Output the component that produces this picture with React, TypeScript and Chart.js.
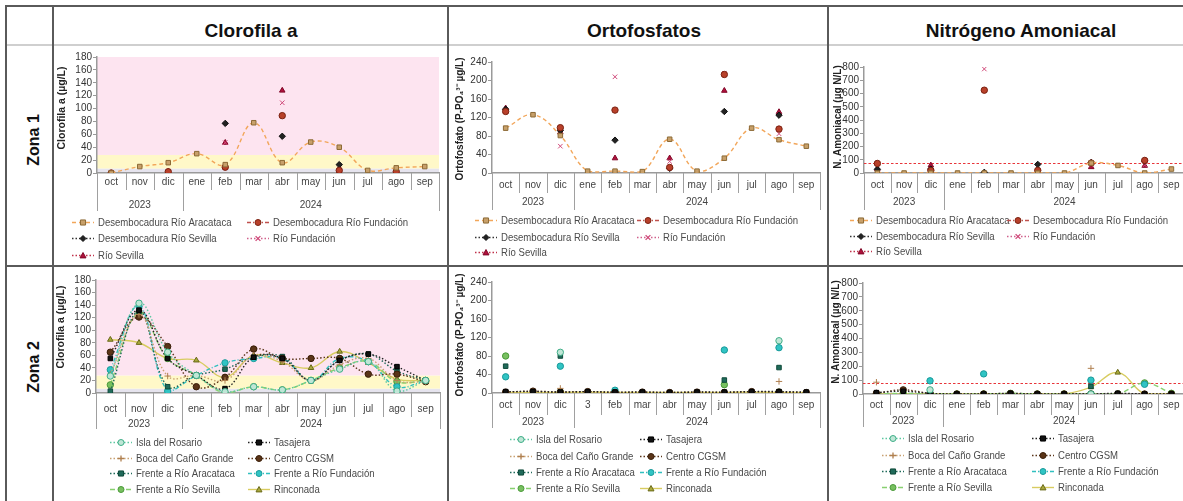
import React, { useEffect, useRef } from 'react';
import { Chart, registerables } from 'chart.js';

Chart.register(...registerables);

const FONT = 'Arial, "Liberation Sans", Helvetica, sans-serif';

// ---------- categories / labels ----------
const months = ['oct', 'nov', 'dic', 'ene', 'feb', 'mar', 'abr', 'may', 'jun', 'jul', 'ago', 'sep'];
const monthsZ2Po = ['oct', 'nov', 'dic', '3', 'feb', 'mar', 'abr', 'may', 'jun', 'jul', 'ago', 'sep'];
const years = ['2023', '2024'];
const yearSplit = 3;

const columnTitles = ['Clorofila a', 'Ortofosfatos', 'Nitrógeno Amoniacal'];
const rowTitles = ['Zona 1', 'Zona 2'];
const yTitles = ['Clorofila a (µg/L)', 'Ortofosfato (P-PO₄³⁻ µg/L)', 'N. Amoniacal (µg N/L)'];

const zone1Names = [
  'Desembocadura Río Aracataca',
  'Desembocadura Río Fundación',
  'Desembocadura Río Sevilla',
  'Río Fundación',
  'Río Sevilla',
];
const zone2Names = [
  'Isla del Rosario',
  'Tasajera',
  'Boca del Caño Grande',
  'Centro CGSM',
  'Frente a Río Aracataca',
  'Frente a Río Fundación',
  'Frente a Río Sevilla',
  'Rinconada',
];

// ---------- Zona 1 : Clorofila a ----------
const z1ChlAracataca = [0, 10, 16, 30, 13, 78, 16, 48, 40, 4, 8, 10];
const z1ChlDesFundacion = [0, null, 2, null, 9, null, 89, null, 4, null, 2, null];
const z1ChlDesSevilla = [null, null, null, null, 77, null, 57, null, 13, null, null, null];
const z1ChlRioFundacion = [null, null, null, null, 47, null, 109, null, 6, null, null, null];
const z1ChlRioSevilla = [null, null, 2, null, 47, null, 128, null, 2, null, 0, null];

// ---------- Zona 1 : Ortofosfatos ----------
const z1PoAracataca = [97, 126, 81, 4, 4, 3, 73, 4, 32, 97, 72, 58];
const z1PoDesFundacion = [133, null, 98, null, 136, null, 12, null, 213, null, 95, null];
const z1PoDesSevilla = [138, null, 92, null, 71, null, 10, null, 133, null, 125, null];
const z1PoRioFundacion = [135, null, 58, null, 208, null, 25, null, 215, null, 85, null];
const z1PoRioSevilla = [140, null, 88, null, 32, null, 32, null, 178, null, 132, null];

// ---------- Zona 1 : Nitrógeno amoniacal ----------
const z1NhAracataca = [0, 0, 0, 0, 0, 0, 0, 0, 75, 57, 0, 30];
const z1NhDesFundacion = [72, null, 20, null, 625, null, 20, null, 75, null, 95, null];
const z1NhDesSevilla = [28, null, 30, null, 5, null, 65, null, 80, null, 90, null];
const z1NhRioFundacion = [10, null, 5, null, 785, null, 5, null, 60, null, 60, null];
const z1NhRioSevilla = [30, null, 58, null, 0, null, 10, null, 45, null, 55, null];

// ---------- Zona 2 : Clorofila a ----------
const z2ChlIsla = [27, 143, 65, 28, 2, 10, 5, 20, 38, 50, 3, 20];
const z2ChlTasajera = [55, 132, 55, 28, 7, 57, 55, 20, 52, 62, 42, 20];
const z2ChlBoca = [30, 125, 27, 28, 20, 60, 50, 20, 45, 55, 20, 18];
const z2ChlCentro = [65, 121, 74, 10, 25, 70, 55, 55, 55, 30, 30, 18];
const z2ChlAracataca = [3, 130, 10, 28, 38, 57, 58, 20, 52, 62, 35, 20];
const z2ChlFundacion = [37, 138, 3, 28, 48, 55, 55, 20, 55, 50, 10, 20];
const z2ChlSevilla = [13, 128, 55, 28, 0, 10, 5, 20, 40, 50, 18, 20];
const z2ChlRinconada = [85, 80, 55, 52, 25, 60, 48, 40, 66, 48, 22, 20];

// ---------- Zona 2 : Ortofosfatos ----------
const z2PoIsla = [null, null, 88, null, null, null, null, null, null, null, 113, null];
const z2PoTasajera = [3, 3, 2, 3, 2, 2, 1, 2, 2, 3, 3, 2];
const z2PoBoca = [null, null, 10, null, null, null, null, null, null, null, 25, null];
const z2PoCentro = [2, 4, 2, 3, 1, 2, 1, 2, 1, 3, 2, 1];
const z2PoAracataca = [58, null, 80, null, null, null, null, null, 28, null, 55, null];
const z2PoFundacion = [35, null, 58, null, 6, null, null, null, 93, null, 98, null];
const z2PoSevilla = [80, null, 2, null, 2, null, null, null, 18, null, 2, null];
const z2PoRinconada = [1, 1, 1, 2, 1, 1, 1, 1, 1, 2, 1, 1];

// ---------- Zona 2 : Nitrógeno amoniacal ----------
const z2NhIsla = [null, null, 30, null, null, null, null, null, 0, null, null, null];
const z2NhTasajera = [10, 20, 5, 0, 0, 5, 0, 0, 0, 5, 0, 0];
const z2NhBoca = [85, null, null, null, null, null, null, null, 185, null, null, null];
const z2NhCentro = [5, 30, 5, 0, 0, 2, 0, 0, 0, 0, 0, 0];
const z2NhAracataca = [null, null, null, null, null, null, null, null, 55, null, null, null];
const z2NhFundacion = [null, null, 95, null, 145, null, null, null, 100, null, 70, null];
const z2NhSevilla = [0, 5, 0, 0, 0, 5, 0, 0, 0, 0, 80, 5];
const z2NhRinconada = [0, 0, 0, 0, 0, 0, 0, 0, 50, 155, 0, 0];

// reference thresholds
const nhReference = 77;
const chlBands = [
  { from: 0, to: 7, color: '#e6e4ee' },
  { from: 7, to: 28, color: '#fff8c8' },
  { from: 28, to: 180, color: '#fde4f0' },
];

type Style = { line: string; dash: number[]; point: string; fill: string; stroke: string; width?: number };

const zone1Styles: Style[] = [
  { line: '#f2a65a', dash: [4, 3], point: 'rect', fill: '#c8a06a', stroke: '#8c6a36' },
  { line: '#c0504d', dash: [4, 2, 1, 2], point: 'circle', fill: '#b8402a', stroke: '#7a2010' },
  { line: '#333333', dash: [1.5, 2], point: 'rectRot', fill: '#222222', stroke: '#111111' },
  { line: '#d0608c', dash: [1.5, 2], point: 'crossRot', fill: '#e07090', stroke: '#d04a7a' },
  { line: '#c0304a', dash: [1.5, 2], point: 'triangle', fill: '#b0103c', stroke: '#800828' },
];

const zone2Styles: Style[] = [
  { line: '#5cc8a0', dash: [1.5, 2], point: 'circle', fill: '#bfe6d6', stroke: '#3fae88' },
  { line: '#222222', dash: [1.5, 2], point: 'rect', fill: '#111111', stroke: '#000000' },
  { line: '#c8a070', dash: [1.5, 2], point: 'cross', fill: '#c09060', stroke: '#b08050' },
  { line: '#5a3418', dash: [1.5, 2], point: 'circle', fill: '#5a3418', stroke: '#3a1e08' },
  { line: '#1f6a5a', dash: [1.5, 2], point: 'rect', fill: '#1f6a5a', stroke: '#0f4a3a' },
  { line: '#30c0c0', dash: [4, 2, 1, 2], point: 'circle', fill: '#30c4c4', stroke: '#1a9a9a' },
  { line: '#88d070', dash: [5, 3], point: 'circle', fill: '#78c060', stroke: '#4a9a3a' },
  { line: '#d8cc60', dash: [], point: 'triangle', fill: '#a8a83c', stroke: '#6a6a1a' },
];

type Rect = { x: number; y: number; w: number; h: number };
type Area = { l: number; t: number; r: number; b: number };
type PanelCfg = {
  canvas: Rect;
  area: Area;
  labels: string[];
  yMax: number;
  yStep: number;
  yTitle: string;
  yTitleX: number;
  yTitleY: number;
  yTitleSize: number;
  names: string[];
  values: (number | null)[][];
  styles: Style[];
  bands?: { from: number; to: number; color: string }[];
  refLine?: number;
  monthY: number;
  yearY: number;
  shortSep: number;
  longSep: number;
  legendCols: number[];
  legendRows: number[];
};

const panels: PanelCfg[] = [
  {
    canvas: { x: 54, y: 46, w: 393, h: 219 },
    area: { l: 97, t: 57, r: 439, b: 173 },
    labels: months, yMax: 180, yStep: 20,
    yTitle: yTitles[0], yTitleX: 62, yTitleY: 108, yTitleSize: 10.5,
    names: zone1Names,
    values: [z1ChlAracataca, z1ChlDesFundacion, z1ChlDesSevilla, z1ChlRioFundacion, z1ChlRioSevilla],
    styles: zone1Styles, bands: chlBands,
    monthY: 182, yearY: 205, shortSep: 190, longSep: 211,
    legendCols: [72, 247], legendRows: [222, 238, 255],
  },
  {
    canvas: { x: 449, y: 46, w: 378, h: 219 },
    area: { l: 492, t: 62, r: 820, b: 173 },
    labels: months, yMax: 240, yStep: 40,
    yTitle: yTitles[1], yTitleX: 460, yTitleY: 119, yTitleSize: 10,
    names: zone1Names,
    values: [z1PoAracataca, z1PoDesFundacion, z1PoDesSevilla, z1PoRioFundacion, z1PoRioSevilla],
    styles: zone1Styles,
    monthY: 185, yearY: 202, shortSep: 193, longSep: 210,
    legendCols: [475, 637], legendRows: [220, 237, 252],
  },
  {
    canvas: { x: 829, y: 46, w: 360, h: 219 },
    area: { l: 864, t: 67, r: 1187, b: 173 },
    labels: months, yMax: 800, yStep: 100,
    yTitle: yTitles[2], yTitleX: 838, yTitleY: 117, yTitleSize: 10,
    names: zone1Names,
    values: [z1NhAracataca, z1NhDesFundacion, z1NhDesSevilla, z1NhRioFundacion, z1NhRioSevilla],
    styles: zone1Styles, refLine: nhReference,
    monthY: 185, yearY: 202, shortSep: 193, longSep: 210,
    legendCols: [850, 1007], legendRows: [220, 236, 251],
  },
  {
    canvas: { x: 54, y: 268, w: 393, h: 233 },
    area: { l: 96, t: 280, r: 440, b: 393 },
    labels: months, yMax: 180, yStep: 20,
    yTitle: yTitles[0], yTitleX: 61, yTitleY: 327, yTitleSize: 10.5,
    names: zone2Names,
    values: [z2ChlIsla, z2ChlTasajera, z2ChlBoca, z2ChlCentro, z2ChlAracataca, z2ChlFundacion, z2ChlSevilla, z2ChlRinconada],
    styles: zone2Styles, bands: chlBands,
    monthY: 409, yearY: 424, shortSep: 417, longSep: 429,
    legendCols: [110, 248], legendRows: [442, 458, 473, 489],
  },
  {
    canvas: { x: 449, y: 268, w: 378, h: 233 },
    area: { l: 492, t: 282, r: 820, b: 393 },
    labels: monthsZ2Po, yMax: 240, yStep: 40,
    yTitle: yTitles[1], yTitleX: 460, yTitleY: 335, yTitleSize: 10,
    names: zone2Names,
    values: [z2PoIsla, z2PoTasajera, z2PoBoca, z2PoCentro, z2PoAracataca, z2PoFundacion, z2PoSevilla, z2PoRinconada],
    styles: zone2Styles,
    monthY: 405, yearY: 422, shortSep: 415, longSep: 428,
    legendCols: [510, 640], legendRows: [439, 456, 472, 488],
  },
  {
    canvas: { x: 829, y: 268, w: 360, h: 233 },
    area: { l: 863, t: 283, r: 1187, b: 394 },
    labels: months, yMax: 800, yStep: 100,
    yTitle: yTitles[2], yTitleX: 836, yTitleY: 332, yTitleSize: 10,
    names: zone2Names,
    values: [z2NhIsla, z2NhTasajera, z2NhBoca, z2NhCentro, z2NhAracataca, z2NhFundacion, z2NhSevilla, z2NhRinconada],
    styles: zone2Styles, refLine: nhReference,
    monthY: 405, yearY: 421, shortSep: 415, longSep: 427,
    legendCols: [882, 1032], legendRows: [438, 455, 471, 487],
  },
];

function drawMarker(ctx: CanvasRenderingContext2D, st: Style, x: number, y: number, r: number) {
  ctx.save();
  ctx.setLineDash([]);
  ctx.fillStyle = st.fill;
  ctx.strokeStyle = st.stroke;
  ctx.lineWidth = 1;
  ctx.beginPath();
  switch (st.point) {
    case 'circle':
      ctx.arc(x, y, r, 0, Math.PI * 2);
      ctx.fill();
      ctx.stroke();
      break;
    case 'rect': {
      const s = r * 0.85;
      ctx.rect(x - s, y - s, 2 * s, 2 * s);
      ctx.fill();
      ctx.stroke();
      break;
    }
    case 'rectRot':
      ctx.moveTo(x, y - r);
      ctx.lineTo(x + r, y);
      ctx.lineTo(x, y + r);
      ctx.lineTo(x - r, y);
      ctx.closePath();
      ctx.fill();
      ctx.stroke();
      break;
    case 'triangle':
      ctx.moveTo(x, y - r);
      ctx.lineTo(x + r, y + r * 0.8);
      ctx.lineTo(x - r, y + r * 0.8);
      ctx.closePath();
      ctx.fill();
      ctx.stroke();
      break;
    case 'cross':
      ctx.lineWidth = 1.3;
      ctx.moveTo(x - r, y);
      ctx.lineTo(x + r, y);
      ctx.moveTo(x, y - r);
      ctx.lineTo(x, y + r);
      ctx.stroke();
      break;
    case 'crossRot':
      ctx.lineWidth = 1.3;
      ctx.moveTo(x - r * 0.8, y - r * 0.8);
      ctx.lineTo(x + r * 0.8, y + r * 0.8);
      ctx.moveTo(x + r * 0.8, y - r * 0.8);
      ctx.lineTo(x - r * 0.8, y + r * 0.8);
      ctx.stroke();
      break;
  }
  ctx.restore();
}

function Panel({ cfg }: { cfg: PanelCfg }) {
  const ref = useRef<HTMLCanvasElement | null>(null);

  useEffect(() => {
    const c = cfg.canvas;
    const a = cfg.area;
    const toX = (px: number) => px - c.x;
    const toY = (py: number) => py - c.y;

    const decor = {
      id: 'panelDecor',
      beforeDraw(chart: any) {
        if (!cfg.bands) return;
        const ctx = chart.ctx as CanvasRenderingContext2D;
        const ca = chart.chartArea;
        const ys = chart.scales.y;
        ctx.save();
        for (const b of cfg.bands) {
          const y1 = ys.getPixelForValue(b.to);
          const y2 = ys.getPixelForValue(b.from);
          ctx.fillStyle = b.color;
          ctx.fillRect(ca.left, y1, ca.right - ca.left, y2 - y1);
        }
        ctx.restore();
      },
      beforeDatasetsDraw(chart: any) {
        if (cfg.refLine === undefined) return;
        const ctx = chart.ctx as CanvasRenderingContext2D;
        const ca = chart.chartArea;
        const y = Math.round(chart.scales.y.getPixelForValue(cfg.refLine)) + 0.5;
        ctx.save();
        ctx.strokeStyle = '#e8353a';
        ctx.lineWidth = 1.2;
        ctx.setLineDash([2.5, 2]);
        ctx.beginPath();
        ctx.moveTo(ca.left, y);
        ctx.lineTo(ca.right, y);
        ctx.stroke();
        ctx.restore();
      },
      afterDraw(chart: any) {
        const ctx = chart.ctx as CanvasRenderingContext2D;
        const ca = chart.chartArea;
        const n = cfg.labels.length;
        const cw = (ca.right - ca.left) / n;
        ctx.save();
        // category separators
        ctx.strokeStyle = '#a0a0a0';
        ctx.lineWidth = 1;
        for (let i = 0; i <= n; i++) {
          const x = Math.round(ca.left + i * cw) + 0.5;
          const long = i === 0 || i === yearSplit || i === n;
          ctx.beginPath();
          ctx.moveTo(x, ca.bottom);
          ctx.lineTo(x, toY(long ? cfg.longSep : cfg.shortSep));
          ctx.stroke();
        }
        // years
        ctx.fillStyle = '#444444';
        ctx.font = `10px ${FONT}`;
        ctx.textAlign = 'center';
        ctx.textBaseline = 'middle';
        ctx.fillText(years[0], ca.left + (yearSplit * cw) / 2, toY(cfg.yearY));
        ctx.fillText(years[1], (ca.left + yearSplit * cw + ca.right) / 2, toY(cfg.yearY));
        // y title
        ctx.save();
        ctx.translate(toX(cfg.yTitleX), toY(cfg.yTitleY));
        ctx.rotate(-Math.PI / 2);
        ctx.font = `bold ${cfg.yTitleSize}px ${FONT}`;
        ctx.fillStyle = '#222222';
        ctx.fillText(cfg.yTitle, 0, 0);
        ctx.restore();
        // legend
        ctx.font = `11px ${FONT}`;
        ctx.textAlign = 'left';
        ctx.textBaseline = 'middle';
        cfg.names.forEach((name, i) => {
          const st = cfg.styles[i];
          const lx = toX(cfg.legendCols[i % 2]);
          const ly = toY(cfg.legendRows[Math.floor(i / 2)]) + 0.5;
          ctx.save();
          ctx.strokeStyle = st.line;
          ctx.lineWidth = st.width ?? 1.4;
          ctx.setLineDash(st.dash);
          ctx.beginPath();
          ctx.moveTo(lx, ly);
          ctx.lineTo(lx + 22, ly);
          ctx.stroke();
          ctx.restore();
          drawMarker(ctx, st, lx + 11, ly, 3);
          ctx.save();
          ctx.translate(lx + 26, ly);
          ctx.scale(0.87, 1);
          ctx.fillStyle = '#4a4a4a';
          ctx.fillText(name, 0, 0);
          ctx.restore();
        });
        ctx.restore();
      },
    };

    const chart = new Chart(ref.current as HTMLCanvasElement, {
      type: 'line',
      data: {
        labels: cfg.labels,
        datasets: cfg.values.map((d, i) => {
          const st = cfg.styles[i];
          return {
            label: cfg.names[i],
            data: d,
            borderColor: st.line,
            backgroundColor: st.fill,
            borderDash: st.dash,
            borderWidth: st.width ?? 1.4,
            pointStyle: st.point as any,
            pointRadius: 3.2,
            pointHoverRadius: 3.2,
            pointBackgroundColor: st.fill,
            pointBorderColor: st.stroke,
            pointBorderWidth: 1,
            tension: 0.4,
            spanGaps: false,
            fill: false,
          };
        }),
      },
      options: {
        responsive: false,
        maintainAspectRatio: false,
        animation: false,
        events: [],
        layout: {
          padding: { left: 0, top: a.t - c.y, right: c.x + c.w - a.r, bottom: 0 },
        },
        plugins: {
          legend: { display: false },
          tooltip: { enabled: false },
          title: { display: false },
        },
        scales: {
          x: {
            type: 'category',
            offset: true,
            grid: { display: false, drawOnChartArea: false, drawTicks: false },
            border: { display: true, color: '#9a9a9a', width: 1.5 },
            ticks: {
              color: '#444444',
              font: { size: 10, family: FONT },
              padding: Math.max(0, cfg.monthY - a.b - 6),
              autoSkip: false,
              maxRotation: 0,
              minRotation: 0,
            },
            afterFit: (s: any) => {
              s.height = c.y + c.h - a.b;
            },
          },
          y: {
            min: 0,
            max: cfg.yMax,
            ticks: {
              stepSize: cfg.yStep,
              autoSkip: false,
              color: '#333333',
              font: { size: 10, family: FONT },
              padding: 1,
            },
            grid: { drawOnChartArea: false, drawTicks: true, tickLength: 4, color: '#9a9a9a' },
            border: { display: true, color: '#9a9a9a', width: 1.5 },
            afterFit: (s: any) => {
              s.width = a.l - c.x;
            },
          },
        },
      },
      plugins: [decor],
    } as any);

    return () => chart.destroy();
  }, [cfg]);

  const c = cfg.canvas;
  return (
    <canvas
      ref={ref}
      width={c.w}
      height={c.h}
      style={{ position: 'absolute', left: c.x, top: c.y, width: c.w, height: c.h }}
    />
  );
}

const lineStyle = (left: number, top: number, width: number, height: number, color: string): React.CSSProperties => ({
  position: 'absolute',
  left,
  top,
  width,
  height,
  background: color,
});

const headerCenters = [251, 644, 1021];
const rowCenters = [140, 367];

export default function App() {
  return (
    <div
      style={{
        position: 'absolute',
        left: 0,
        top: 0,
        width: 1183,
        height: 501,
        overflow: 'hidden',
        background: '#ffffff',
        fontFamily: FONT,
      }}
    >
      {panels.map((p, i) => (
        <Panel key={i} cfg={p} />
      ))}

      {/* table grid */}
      <div style={lineStyle(5, 5, 1178, 2, '#5a5a5a')} />
      <div style={lineStyle(5, 44, 1178, 2, '#cfcfcf')} />
      <div style={lineStyle(5, 265, 1178, 2, '#5a5a5a')} />
      <div style={lineStyle(5, 5, 2, 496, '#5a5a5a')} />
      <div style={lineStyle(52, 5, 2, 496, '#5a5a5a')} />
      <div style={lineStyle(447, 5, 2, 496, '#5a5a5a')} />
      <div style={lineStyle(827, 5, 2, 496, '#5a5a5a')} />

      {columnTitles.map((t, i) => (
        <div
          key={t}
          style={{
            position: 'absolute',
            left: headerCenters[i] - 150,
            top: 20,
            width: 300,
            height: 22,
            lineHeight: '22px',
            textAlign: 'center',
            fontWeight: 'bold',
            fontSize: 19,
            color: '#111111',
          }}
        >
          {t}
        </div>
      ))}

      {rowTitles.map((t, i) => (
        <div
          key={t}
          style={{
            position: 'absolute',
            left: 34 - 50,
            top: rowCenters[i] - 10,
            width: 100,
            height: 20,
            lineHeight: '20px',
            textAlign: 'center',
            fontWeight: 'bold',
            fontSize: 16,
            color: '#111111',
            transform: 'rotate(-90deg)',
          }}
        >
          {t}
        </div>
      ))}
    </div>
  );
}
